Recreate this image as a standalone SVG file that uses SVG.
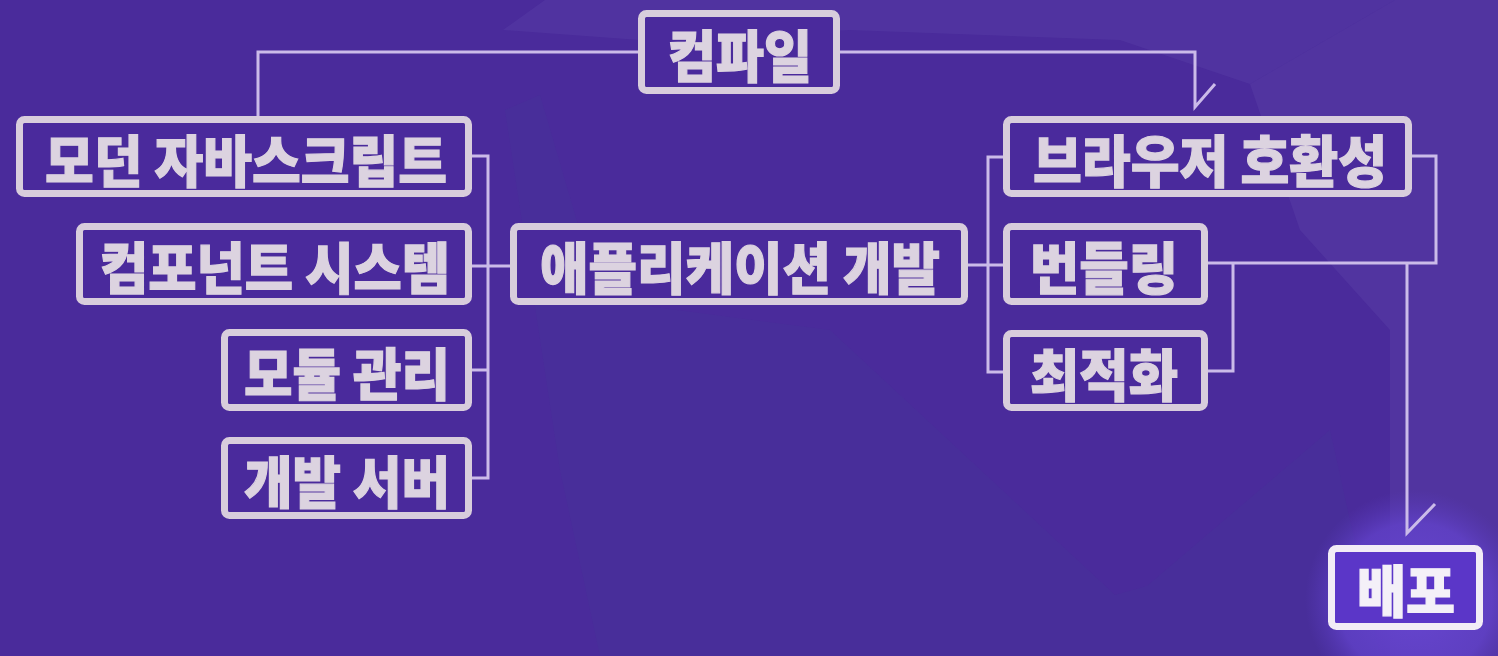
<svg xmlns="http://www.w3.org/2000/svg" width="1498" height="656" viewBox="0 0 1498 656">
  <defs>
    <style>
      .box { fill: #4a2a9c; stroke: #d8cddc; stroke-width: 7; }
      .lbl { font-family: "Noto Sans CJK KR", "Noto Sans", sans-serif; font-weight: 900; font-size: 56px; fill: #dcd3e0; stroke: #dcd3e0; stroke-width: 1.2; text-anchor: middle; dominant-baseline: central; }
      .conn { fill: none; stroke: #cbbbe9; stroke-width: 3; }
    </style>
    <radialGradient id="glow" cx="0.5" cy="0.5" r="0.5">
      <stop offset="0" stop-color="#6a48d6" stop-opacity="0.9"/>
      <stop offset="0.7" stop-color="#6444cf" stop-opacity="0.7"/>
      <stop offset="1" stop-color="#5a3cc0" stop-opacity="0"/>
    </radialGradient>
  </defs>

  <!-- background -->
  <rect x="0" y="0" width="1498" height="656" fill="#4a2b9b"/>
  <polygon points="503,30 545,0 1395,0 1250,84 1120,40 850,30 640,40" fill="#5a40a8" opacity="0.4"/>
  <polygon points="1250,84 1395,0 1498,0 1498,656 1390,656 1390,330 1300,230" fill="#5439a3" opacity="0.65"/>
  <polygon points="505,110 540,95 600,300 830,330 1115,595 1147,586 1330,430 1380,656 600,656 560,470" fill="#473598" opacity="0.4"/>
  <circle cx="1415" cy="600" r="110" fill="url(#glow)"/>

  <!-- connectors -->
  <g id="connectors">
    <path class="conn" d="M638,52 H258 V116"/>
    <path class="conn" d="M840,52 H1195 V107 L1215,84"/>
    <path class="conn" d="M472,156 H488 V478 H472"/>
    <path class="conn" d="M472,266 H510"/>
    <path class="conn" d="M472,370 H488"/>
    <path class="conn" d="M1003,157 H988 V372 H1003"/>
    <path class="conn" d="M968,265 H1003"/>
    <path class="conn" d="M1412,156 H1436 V263 H1208"/>
    <path class="conn" d="M1233,263 V371 H1208"/>
    <path class="conn" d="M1407,263 V533 L1435,504"/>
  </g>

  <g id="node-compile">
    <rect class="box" x="641.5" y="13.5" width="195" height="77" rx="5"/>
    <text class="lbl" x="740" y="52" textLength="144" lengthAdjust="spacingAndGlyphs">컴파일</text>
  </g>
  <g id="node-modern-js">
    <rect class="box" x="19.5" y="119.5" width="449" height="74" rx="5"/>
    <text class="lbl" x="246" y="157" textLength="402" lengthAdjust="spacingAndGlyphs">모던 자바스크립트</text>
  </g>
  <g id="node-component">
    <rect class="box" x="79.5" y="226.5" width="389" height="75" rx="5"/>
    <text class="lbl" x="275" y="264" textLength="350" lengthAdjust="spacingAndGlyphs">컴포넌트 시스템</text>
  </g>
  <g id="node-module">
    <rect class="box" x="224.5" y="332.5" width="244" height="75" rx="5"/>
    <text class="lbl" x="347" y="370" textLength="206" lengthAdjust="spacingAndGlyphs">모듈 관리</text>
  </g>
  <g id="node-devserver">
    <rect class="box" x="224.5" y="440.5" width="244" height="75" rx="5"/>
    <text class="lbl" x="347" y="478" textLength="206" lengthAdjust="spacingAndGlyphs">개발 서버</text>
  </g>
  <g id="node-appdev">
    <rect class="box" x="513.5" y="226.5" width="451" height="75" rx="5"/>
    <text class="lbl" x="740" y="264" textLength="400" lengthAdjust="spacingAndGlyphs">애플리케이션 개발</text>
  </g>
  <g id="node-browser">
    <rect class="box" x="1006.5" y="119.5" width="402" height="74" rx="5"/>
    <text class="lbl" x="1210" y="157" textLength="354" lengthAdjust="spacingAndGlyphs">브라우저 호환성</text>
  </g>
  <g id="node-bundling">
    <rect class="box" x="1006.5" y="226.5" width="198" height="75" rx="5"/>
    <text class="lbl" x="1104" y="264" textLength="148" lengthAdjust="spacingAndGlyphs">번들링</text>
  </g>
  <g id="node-optimize">
    <rect class="box" x="1006.5" y="333.5" width="198" height="74" rx="5"/>
    <text class="lbl" x="1104" y="371" textLength="148" lengthAdjust="spacingAndGlyphs">최적화</text>
  </g>
  <g id="node-deploy">
    <rect x="1331.5" y="548.5" width="148" height="78" rx="5" fill="#5b36c8" stroke="#f2ecf6" stroke-width="7"/>
    <text class="lbl" x="1406" y="587" textLength="98" lengthAdjust="spacingAndGlyphs" style="fill:#f4f0f8;stroke:#f4f0f8">배포</text>
  </g>
</svg>
